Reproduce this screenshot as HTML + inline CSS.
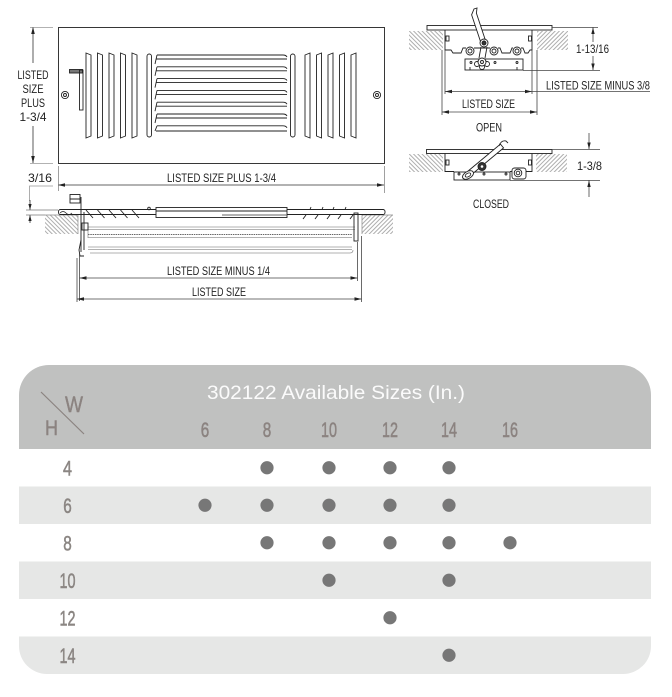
<!DOCTYPE html>
<html>
<head>
<meta charset="utf-8">
<style>
  html,body{margin:0;padding:0;background:#fff;}
  body{width:672px;height:697px;overflow:hidden;position:relative;}
  svg{position:absolute;left:0;top:0;}
  .t{font-family:"Liberation Sans",sans-serif;font-size:12px;fill:#222;}
  .tb{font-family:"Liberation Sans",sans-serif;}
</style>
</head>
<body>
<svg width="672" height="697" viewBox="0 0 672 697" xmlns="http://www.w3.org/2000/svg">
  <defs>
    <pattern id="hb" width="3" height="3" patternUnits="userSpaceOnUse" patternTransform="rotate(-45)">
      <line x1="0.5" y1="0" x2="0.5" y2="3" stroke="#8a8a8a" stroke-width="0.7"/>
    </pattern>
    <pattern id="hf" width="3" height="3" patternUnits="userSpaceOnUse" patternTransform="rotate(45)">
      <line x1="0.5" y1="0" x2="0.5" y2="3" stroke="#8a8a8a" stroke-width="0.7"/>
    </pattern>
  </defs>

  <!-- ================= FRONT VIEW ================= -->
  <g stroke="#222" stroke-width="0.9" fill="none">
    <rect x="58.5" y="27.5" width="326" height="136"/>
    <g>
      <path d="M86,53 L91,55 L91,136 L86,138 Z"/>
      <path d="M97.5,53 L102.5,55 L102.5,136 L97.5,138 Z"/>
      <path d="M109,53 L114,55 L114,136 L109,138 Z"/>
      <path d="M120.5,53 L125.5,55 L125.5,136 L120.5,138 Z"/>
      <path d="M132,53 L137,55 L137,136 L132,138 Z"/>
      <rect x="147" y="54" width="4.5" height="83" rx="2.2"/>
    </g>
    <g transform="translate(442,0) scale(-1,1)">
      <path d="M86,53 L91,55 L91,136 L86,138 Z"/>
      <path d="M97.5,53 L102.5,55 L102.5,136 L97.5,138 Z"/>
      <path d="M109,53 L114,55 L114,136 L109,138 Z"/>
      <path d="M120.5,53 L125.5,55 L125.5,136 L120.5,138 Z"/>
      <path d="M132,53 L137,55 L137,136 L132,138 Z"/>
      <rect x="147" y="54" width="4.5" height="83" rx="2.2"/>
    </g>
    <g>
      <path d="M157,55 H283 Q286,55 287,57 M156,59 H287 M157,55 L155,64"/>
      <path d="M157,66.8 H283 Q286,66.8 287,68.8 M156,70.8 H287 M157,66.8 L155,75.8"/>
      <path d="M157,78.6 H283 Q286,78.6 287,80.6 M156,82.6 H287 M157,78.6 L155,87.6"/>
      <path d="M157,90.4 H283 Q286,90.4 287,92.4 M156,94.4 H287 M157,90.4 L155,99.4"/>
      <path d="M157,102.2 H283 Q286,102.2 287,104.2 M156,106.2 H287 M157,102.2 L155,111.2"/>
      <path d="M157,114 H283 Q286,114 287,116 M156,118 H287 M157,114 L155,123"/>
      <path d="M157,125.8 H283 Q286,125.8 287,127.8 M156,131 H287 M157,125.8 L155,131"/>
    </g>
    <circle cx="65" cy="95" r="3.6"/>
    <circle cx="65" cy="95" r="1.5"/>
    <circle cx="377" cy="95" r="3.6"/>
    <circle cx="377" cy="95" r="1.5"/>
    <rect x="69.5" y="69.5" width="13" height="3.5" fill="#777"/>
    <rect x="79.5" y="70" width="3.5" height="40"/>
  </g>

  <g stroke="#333" stroke-width="0.8" fill="none">
    <line x1="33" y1="27" x2="33" y2="63"/>
    <line x1="33" y1="126" x2="33" y2="163"/>
    <line x1="30" y1="27.5" x2="53" y2="27.5" stroke="#999"/>
    <line x1="30" y1="163.5" x2="53" y2="163.5" stroke="#999"/>
    <line x1="58" y1="185" x2="384" y2="185"/>
    <line x1="58.5" y1="166" x2="58.5" y2="191" stroke="#888"/>
    <line x1="384.5" y1="166" x2="384.5" y2="193" stroke="#888"/>
    <path d="M53,186 H29.5 V201" stroke="#999"/>
  </g>
  <g fill="#222">
    <polygon points="33,27 31.2,34 34.8,34"/>
    <polygon points="33,163 31.2,156 34.8,156"/>
    <polygon points="58,185 65,183.2 65,186.8"/>
    <polygon points="384,185 377,183.2 377,186.8"/>
  </g>
  <text class="t" x="33" y="79" text-anchor="middle" textLength="31" lengthAdjust="spacingAndGlyphs">LISTED</text>
  <text class="t" x="33" y="93" text-anchor="middle" textLength="21" lengthAdjust="spacingAndGlyphs">SIZE</text>
  <text class="t" x="33" y="107" text-anchor="middle" textLength="24" lengthAdjust="spacingAndGlyphs">PLUS</text>
  <text class="t" x="33" y="121" text-anchor="middle" textLength="27" lengthAdjust="spacingAndGlyphs">1-3/4</text>
  <text class="t" x="28" y="182" textLength="24" lengthAdjust="spacingAndGlyphs">3/16</text>
  <text class="t" x="167" y="182" textLength="109" lengthAdjust="spacingAndGlyphs">LISTED SIZE PLUS 1-3/4</text>

  <!-- ================= SIDE SECTION ================= -->
  <rect x="45" y="215" width="33" height="19" fill="url(#hb)"/>
  <rect x="362" y="215" width="31" height="19" fill="url(#hf)"/>
  <g stroke="#888" stroke-width="0.7" fill="none">
    <line x1="45" y1="215" x2="78" y2="215"/>
    <line x1="78" y1="215" x2="78" y2="234"/>
    <line x1="362" y1="215" x2="393" y2="215"/>
    <line x1="362" y1="215" x2="362" y2="234"/>
  </g>
  <g stroke="#333" stroke-width="0.8">
    <line x1="30" y1="200" x2="30" y2="210"/>
    <line x1="30" y1="215" x2="30" y2="223"/>
    <line x1="26" y1="210" x2="58" y2="210" stroke="#777"/>
    <line x1="26" y1="215" x2="45" y2="215" stroke="#777"/>
  </g>
  <g fill="#222">
    <polygon points="30,210 28.4,204 31.6,204"/>
    <polygon points="30,215 28.4,221 31.6,221"/>
  </g>
  <g stroke="#999" stroke-width="0.8" fill="none">
    <line x1="88" y1="227" x2="355" y2="227"/>
    <line x1="88" y1="229.5" x2="355" y2="229.5"/>
    <line x1="88" y1="237.5" x2="352" y2="237.5"/>
    <line x1="88" y1="247" x2="352" y2="247"/>
    <line x1="88" y1="249.5" x2="352" y2="249.5"/>
    <path d="M90,253 H350 Q353,253 353,250"/>
    <line x1="88" y1="227" x2="88" y2="238"/>
  </g>
  <line x1="88" y1="234.5" x2="352" y2="234.5" stroke="#666" stroke-width="0.9" stroke-dasharray="1.5,0.8"/>
  <g stroke="#222" stroke-width="0.9" fill="none">
    <rect x="58.5" y="209.5" width="326.5" height="5" rx="2" fill="#fff"/>
    <path d="M60,213 q3,-3 6,0 q3,3 6,0" stroke-width="0.7"/>
    <rect x="156" y="207.5" width="131" height="10" fill="#fff"/>
    <line x1="156" y1="211" x2="287" y2="211"/>
    <line x1="222" y1="215" x2="287" y2="215" stroke="#666"/>
    <circle cx="149" cy="208.5" r="1.3"/>
    <line x1="86" y1="210" x2="93" y2="218"/>
    <line x1="97.5" y1="210" x2="104.5" y2="218"/>
    <line x1="109" y1="210" x2="116" y2="218"/>
    <line x1="120.5" y1="210" x2="127.5" y2="218"/>
    <line x1="132" y1="210" x2="139" y2="218"/>
    <line x1="306" y1="215" x2="303" y2="219"/>
    <line x1="318" y1="215" x2="315" y2="219"/>
    <line x1="330" y1="215" x2="327" y2="219"/>
    <line x1="341" y1="215" x2="338" y2="219"/>
    <line x1="353" y1="215" x2="350" y2="219"/>
    <line x1="311" y1="207" x2="310" y2="209.5"/>
    <line x1="323" y1="207" x2="322" y2="209.5"/>
    <line x1="334" y1="207" x2="333" y2="209.5"/>
    <line x1="346" y1="207" x2="345" y2="209.5"/>
    <line x1="81" y1="210" x2="81" y2="252"/>
    <line x1="84" y1="212" x2="84" y2="250"/>
    <rect x="82" y="223" width="6" height="7"/>
    <path d="M81,240 L79,250 L80,256 L84,256"/>
    <rect x="70" y="194.5" width="10" height="4.5"/>
    <rect x="70" y="199" width="10" height="4"/>
    <line x1="81" y1="197" x2="81" y2="212"/>
    <rect x="354" y="213" width="4" height="28"/>
  </g>
  <g stroke="#444" stroke-width="0.8">
    <line x1="79.5" y1="254" x2="79.5" y2="301"/>
    <line x1="77" y1="258" x2="77" y2="302"/>
    <line x1="357.5" y1="242" x2="357.5" y2="281"/>
    <line x1="361.5" y1="236" x2="361.5" y2="302"/>
    <line x1="79.5" y1="278" x2="357.5" y2="278"/>
    <line x1="77" y1="299" x2="361.5" y2="299"/>
  </g>
  <g fill="#222">
    <polygon points="79.5,278 86.5,276.2 86.5,279.8"/>
    <polygon points="357.5,278 350.5,276.2 350.5,279.8"/>
    <polygon points="77,299 84,297.2 84,300.8"/>
    <polygon points="361.5,299 354.5,297.2 354.5,300.8"/>
  </g>
  <text class="t" x="167" y="275" textLength="103" lengthAdjust="spacingAndGlyphs">LISTED SIZE MINUS 1/4</text>
  <text class="t" x="192" y="296" textLength="54" lengthAdjust="spacingAndGlyphs">LISTED SIZE</text>

  <!-- ================= OPEN VIEW ================= -->
  <rect x="409" y="31" width="34" height="19" fill="url(#hb)"/>
  <rect x="537" y="31" width="31" height="19" fill="url(#hf)"/>
  <g stroke="#222" stroke-width="0.9" fill="none">
    <rect x="427" y="25.5" width="125" height="4.5" fill="#fff"/>
    <path d="M445,30 V50 H451 L453,53 H461 L463,48 H466 M474,48 H490 M498,48 H500 L502,53 H510 L512,48 H513 M521,48 H523 L525,53 H528 L530,50 H532 V30"/>
    <rect x="446" y="36" width="3" height="5"/>
    <rect x="528.5" y="36" width="3" height="5"/>
    <circle cx="470" cy="51" r="4" fill="#fff"/>
    <circle cx="470" cy="51" r="2"/>
    <circle cx="494" cy="51" r="4" fill="#fff"/>
    <circle cx="494" cy="51" r="2"/>
    <circle cx="517" cy="51" r="4" fill="#fff"/>
    <circle cx="517" cy="51" r="2"/>
    <rect x="465" y="59" width="58" height="11" fill="#fff"/>
    <circle cx="471" cy="62.5" r="1"/>
    <circle cx="495" cy="62.5" r="1"/>
    <circle cx="517" cy="62.5" r="1"/>
    <line x1="470" y1="67" x2="470" y2="70"/>
    <line x1="517" y1="67" x2="517" y2="70"/>
    <polygon points="471.6,14.8 474,9 477,8 476.4,13.2 486.4,43.2 481.6,44.8" fill="#fff"/>
    <line x1="481" y1="47" x2="479" y2="58"/>
    <line x1="487" y1="47" x2="485" y2="58"/>
    <circle cx="484" cy="43" r="4" fill="#fff"/>
    <circle cx="484" cy="43" r="2" fill="#333"/>
    <circle cx="477" cy="64" r="2.5" fill="#fff"/>
    <circle cx="487" cy="64" r="2.5" fill="#fff"/>
    <circle cx="482" cy="67" r="2.5" fill="#fff"/>
    <circle cx="482" cy="62" r="4" fill="#fff"/>
    <circle cx="482" cy="62" r="1.5"/>
  </g>
  <g stroke="#444" stroke-width="0.8">
    <line x1="593" y1="27" x2="593" y2="42"/>
    <line x1="593" y1="56" x2="593" y2="70"/>
    <line x1="552" y1="27.5" x2="598" y2="27.5"/>
    <line x1="523" y1="70.5" x2="600" y2="70.5"/>
    <line x1="445" y1="50" x2="445" y2="94"/>
    <line x1="532" y1="50" x2="532" y2="94"/>
    <line x1="442" y1="50" x2="442" y2="115"/>
    <line x1="537" y1="50" x2="537" y2="115"/>
    <line x1="445" y1="91.5" x2="650" y2="91.5"/>
    <line x1="442" y1="112" x2="537" y2="112"/>
  </g>
  <g fill="#222">
    <polygon points="593,27.5 591.3,34 594.7,34"/>
    <polygon points="593,70 591.3,63.5 594.7,63.5"/>
    <polygon points="445,91.5 452,89.7 452,93.3"/>
    <polygon points="532,91.5 525,89.7 525,93.3"/>
    <polygon points="442,112 449,110.2 449,113.8"/>
    <polygon points="537,112 530,110.2 530,113.8"/>
  </g>
  <text class="t" x="576" y="53" textLength="33" lengthAdjust="spacingAndGlyphs">1-13/16</text>
  <text class="t" x="546" y="89.5" textLength="104" lengthAdjust="spacingAndGlyphs">LISTED SIZE MINUS 3/8</text>
  <text class="t" x="462" y="108" textLength="53" lengthAdjust="spacingAndGlyphs">LISTED SIZE</text>
  <text class="t" x="476" y="131.5" textLength="26" lengthAdjust="spacingAndGlyphs">OPEN</text>

  <!-- ================= CLOSED VIEW ================= -->
  <rect x="409" y="154" width="34" height="18" fill="url(#hb)"/>
  <rect x="536" y="154" width="31" height="18" fill="url(#hf)"/>
  <g stroke="#222" stroke-width="0.9" fill="none">
    <rect x="426.5" y="149.5" width="125.5" height="4" fill="#fff"/>
    <path d="M445,153.5 V171.5 H454 M510,171.5 H513 M526,171.5 H532 V153.5"/>
    <rect x="446" y="160" width="3" height="5"/>
    <rect x="528.5" y="160" width="3" height="5"/>
    <rect x="454" y="172" width="56" height="8" fill="#fff"/>
    <circle cx="459" cy="174" r="1"/>
    <circle cx="484" cy="174" r="1"/>
    <circle cx="506" cy="174" r="1"/>
    <rect x="512" y="168" width="14" height="11" rx="2.5" fill="#fff"/>
    <circle cx="518" cy="173" r="3.8" fill="#fff"/>
    <circle cx="518" cy="173" r="1.8"/>
    <polygon points="503.6,147.9 467.6,177.9 464.4,174.1 500.4,144.1" fill="#fff"/>
    <path d="M499,146 Q501,140 506,141 L508,143"/>
    <ellipse cx="468" cy="175" rx="6" ry="3.5" transform="rotate(-30 468 175)" fill="#fff"/>
    <ellipse cx="468" cy="175" rx="3" ry="1.7" transform="rotate(-30 468 175)"/>
    <circle cx="482" cy="166.5" r="4" fill="#333"/>
    <circle cx="482" cy="166.5" r="1.3" fill="#fff" stroke="none"/>
  </g>
  <g stroke="#444" stroke-width="0.8">
    <line x1="589" y1="133" x2="589" y2="149"/>
    <line x1="589" y1="180" x2="589" y2="197"/>
    <line x1="552" y1="149.5" x2="600" y2="149.5"/>
    <line x1="510" y1="180.5" x2="600" y2="180.5"/>
  </g>
  <g fill="#222">
    <polygon points="589,149 587.3,142.5 590.7,142.5"/>
    <polygon points="589,180.5 587.3,187 590.7,187"/>
  </g>
  <text class="t" x="577" y="170" textLength="25" lengthAdjust="spacingAndGlyphs">1-3/8</text>
  <text class="t" x="473" y="208" textLength="36" lengthAdjust="spacingAndGlyphs">CLOSED</text>

  <!-- ================= TABLE ================= -->
  <path d="M19,449 V395 A30,30 0 0 1 49,365 H621 A30,30 0 0 1 651,395 V449 Z" fill="#c0c1c0"/>
  <rect x="19" y="486.5" width="632" height="37.5" fill="#e6e7e6"/>
  <rect x="19" y="561.5" width="632" height="37.5" fill="#e6e7e6"/>
  <path d="M19,636.5 H651 V646 A28,28 0 0 1 623,674 H47 A28,28 0 0 1 19,646 Z" fill="#e6e7e6"/>

  <text class="tb" x="207" y="399" font-size="19.5" fill="#fbfbfb" textLength="258" lengthAdjust="spacingAndGlyphs">302122 Available Sizes (In.)</text>

  <line x1="41" y1="392" x2="84" y2="434" stroke="#8b8380" stroke-width="1.2"/>
  <text class="tb" x="74" y="412" font-size="22" fill="#8b8380" stroke="#8b8380" stroke-width="0.4" text-anchor="middle" textLength="18" lengthAdjust="spacingAndGlyphs">W</text>
  <text class="tb" x="51.5" y="435" font-size="21" fill="#8b8380" stroke="#8b8380" stroke-width="0.4" text-anchor="middle" textLength="13" lengthAdjust="spacingAndGlyphs">H</text>

  <g class="tb" font-size="21" fill="#8b8380" stroke="#8b8380" stroke-width="0.55" text-anchor="middle">
    <text x="205" y="437" textLength="8.5" lengthAdjust="spacingAndGlyphs">6</text>
    <text x="267" y="437" textLength="8.5" lengthAdjust="spacingAndGlyphs">8</text>
    <text x="329" y="437" textLength="16" lengthAdjust="spacingAndGlyphs">10</text>
    <text x="390" y="437" textLength="16" lengthAdjust="spacingAndGlyphs">12</text>
    <text x="449" y="437" textLength="16" lengthAdjust="spacingAndGlyphs">14</text>
    <text x="510" y="437" textLength="16" lengthAdjust="spacingAndGlyphs">16</text>
  </g>

  <g class="tb" font-size="21" fill="#8b8683" stroke="#8b8683" stroke-width="0.55" text-anchor="middle">
    <text x="67.5" y="475.5" textLength="9" lengthAdjust="spacingAndGlyphs">4</text>
    <text x="67.5" y="513" textLength="8.5" lengthAdjust="spacingAndGlyphs">6</text>
    <text x="67.5" y="550.5" textLength="8.5" lengthAdjust="spacingAndGlyphs">8</text>
    <text x="67.5" y="588" textLength="16" lengthAdjust="spacingAndGlyphs">10</text>
    <text x="67.5" y="625.5" textLength="16" lengthAdjust="spacingAndGlyphs">12</text>
    <text x="67.5" y="663" textLength="16" lengthAdjust="spacingAndGlyphs">14</text>
  </g>

  <g fill="#777">
    <circle cx="267" cy="467.75" r="6.6"/>
    <circle cx="329" cy="467.75" r="6.6"/>
    <circle cx="390" cy="467.75" r="6.6"/>
    <circle cx="449" cy="467.75" r="6.6"/>
    <circle cx="205" cy="505.25" r="6.6"/>
    <circle cx="267" cy="505.25" r="6.6"/>
    <circle cx="329" cy="505.25" r="6.6"/>
    <circle cx="390" cy="505.25" r="6.6"/>
    <circle cx="449" cy="505.25" r="6.6"/>
    <circle cx="267" cy="542.75" r="6.6"/>
    <circle cx="329" cy="542.75" r="6.6"/>
    <circle cx="390" cy="542.75" r="6.6"/>
    <circle cx="449" cy="542.75" r="6.6"/>
    <circle cx="510" cy="542.75" r="6.6"/>
    <circle cx="329" cy="580.25" r="6.6"/>
    <circle cx="449" cy="580.25" r="6.6"/>
    <circle cx="390" cy="617.75" r="6.6"/>
    <circle cx="449" cy="655.25" r="6.6"/>
  </g>
</svg>
</body>
</html>
